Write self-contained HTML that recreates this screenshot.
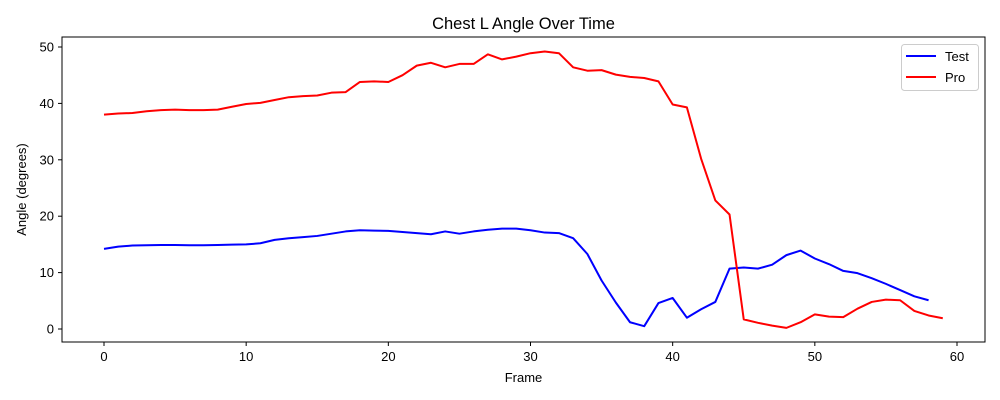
<!DOCTYPE html>
<html><head><meta charset="utf-8"><style>
body{margin:0;background:#fff;}
svg{display:block;font-family:"Liberation Sans","DejaVu Sans",sans-serif;}
</style></head><body>
<svg id="chart" width="1000" height="400" xmlns="http://www.w3.org/2000/svg"></svg>
<script>
const testValues=[14.2,14.6,14.8,14.85,14.9,14.9,14.85,14.85,14.9,14.95,15.0,15.2,15.8,16.1,16.3,16.5,16.9,17.3,17.5,17.45,17.4,17.2,17.0,16.8,17.3,16.9,17.3,17.6,17.8,17.8,17.5,17.1,17.0,16.1,13.3,8.6,4.7,1.2,0.5,4.6,5.5,2.0,3.5,4.8,10.7,10.9,10.7,11.4,13.1,13.9,12.5,11.5,10.3,9.9,9.0,8.0,6.9,5.8,5.1];
const proValues=[38.0,38.2,38.3,38.6,38.8,38.9,38.8,38.8,38.9,39.4,39.9,40.1,40.6,41.1,41.3,41.4,41.9,42.0,43.8,43.9,43.8,45.0,46.7,47.2,46.4,47.0,47.0,48.7,47.8,48.3,48.9,49.2,48.9,46.4,45.8,45.9,45.1,44.7,44.5,43.9,39.8,39.3,30.2,22.8,20.3,1.7,1.1,0.6,0.2,1.2,2.6,2.2,2.1,3.6,4.8,5.2,5.1,3.2,2.4,1.9];
const xTicks=[0,10,20,30,40,50,60];
const yTicks=[0,10,20,30,40,50];
const seriesNames=["Test","Pro"];
const seriesColors=["#0000ff","#ff0000"];

const NS="http://www.w3.org/2000/svg";
const svg=document.getElementById('chart');
const L=62,R=985,T=37,B=342;
const xScale=v=>104+(v-0)*(957-104)/60;
const yScale=v=>329-v*(329-47)/50;
function mk(tag,attrs,parent){const e=document.createElementNS(NS,tag);for(const k in attrs)e.setAttribute(k,attrs[k]);(parent||svg).appendChild(e);return e;}

const title=mk('text',{x:523.5,y:29,'text-anchor':'middle','font-size':'16.5',fill:'#000'});
title.textContent='Chest L Angle Over Time';



xTicks.forEach(t=>{
  const x=xScale(t);
  const tk=mk('line',{x1:x,x2:x,y1:B,y2:B+4,stroke:'#000','stroke-width':1});
  
  
  const lb=mk('text',{x:x,y:B+19,'text-anchor':'middle','font-size':'13',fill:'#000'});
  lb.textContent=t;
  
  
});
yTicks.forEach(t=>{
  const y=yScale(t);
  const tk=mk('line',{x1:L-4,x2:L,y1:y,y2:y,stroke:'#000','stroke-width':1});
  
  
  const lb=mk('text',{x:L-8,y:y+4.5,'text-anchor':'end','font-size':'13',fill:'#000'});
  lb.textContent=t;
  
  
});
const xt=mk('text',{x:523.5,y:382,'text-anchor':'middle','font-size':'13',fill:'#000'});
xt.textContent='Frame';


const yt=mk('text',{x:0,y:0,'text-anchor':'middle','font-size':'13',fill:'#000',transform:'translate(26,189.5) rotate(-90)'});
yt.textContent='Angle (degrees)';



[testValues,proValues].forEach((vals,i)=>{
  const d=vals.map((v,j)=>(j?'L':'M')+xScale(j).toFixed(2)+','+yScale(v).toFixed(2)).join(' ');
  const p=mk('path',{d:d,fill:'none',stroke:seriesColors[i],'stroke-width':2,'stroke-linejoin':'round'});
  
  
});

const frame=mk('rect',{x:L,y:T,width:R-L,height:B-T,fill:'none',stroke:'#000','stroke-width':1});



const lg=mk('g',{});


mk('rect',{x:901.5,y:44.5,width:77,height:46,rx:3,fill:'#fff','fill-opacity':0.8,stroke:'#ccc'},lg);
seriesNames.forEach((n,i)=>{
  const y=56+i*21;
  const ln=mk('line',{x1:906,x2:936,y1:y,y2:y,stroke:seriesColors[i],'stroke-width':2},lg);
  
  
  const tx=mk('text',{x:945,y:y+5,'font-size':'13',fill:'#000'},lg);
  tx.textContent=n;
  
  
});
</script>
</body></html>
